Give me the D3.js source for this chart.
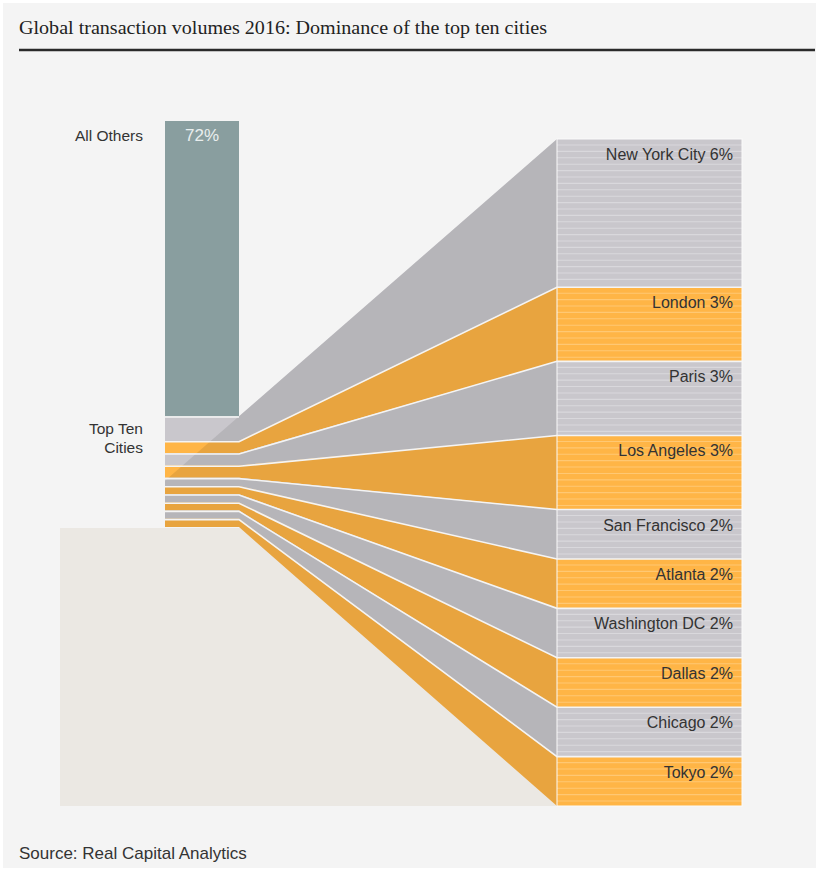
<!DOCTYPE html>
<html><head><meta charset="utf-8">
<script src="https://cdn.jsdelivr.net/npm/d3@7"></script>
<style>body{margin:0;background:#ffffff;} svg{display:block;}</style>
</head><body>
<script>
// ---- data ----
const cities = ["New York City","London","Paris","Los Angeles","San Francisco","Atlanta","Washington DC","Dallas","Chicago","Tokyo"];
const shares = [6,3,3,3,2,2,2,2,2,2];
const othersLabel = "All Others";
const othersShare = 72;
const topTenLabel = ["Top Ten","Cities"];
const titleText = "Global transaction volumes 2016: Dominance of the top ten cities";
const sourceText = "Source: Real Capital Analytics";

// ---- layout ----
const W = 819, H = 871;
const svg = d3.select("body").append("svg").attr("width", W).attr("height", H);
const sans = "'Liberation Sans', Arial, sans-serif";

const leftX0 = 165, leftX1 = 239, rightX0 = 557, rightX1 = 742;
const topTotal = d3.sum(shares);
const leftY = d3.scaleLinear().domain([0, othersShare + topTotal]).range([121, 527]);
const rightY = d3.scaleLinear().domain([0, topTotal]).range([139, 806]);

const cum = [];
shares.reduce((a, v, i) => { cum[i] = a; return a + v; }, 0);
const rows = cities.map((c, i) => ({
  name: c, share: shares[i], i,
  lt: leftY(othersShare + cum[i]), lb: leftY(othersShare + cum[i] + shares[i]),
  rt: rightY(cum[i]), rb: rightY(cum[i] + shares[i])
}));

const light = i => i % 2 === 0 ? "#c9c7cc" : "#ffb546";
const stripe = i => i % 2 === 0 ? "#d9d8dc" : "#ffc873";

// panel background
svg.append("rect").attr("x", 3).attr("y", 3).attr("width", W - 6).attr("height", H - 6).attr("fill", "#f4f4f4");

// title
svg.append("text").attr("x", 19).attr("y", 34)
  .attr("font-family", "'Liberation Serif', 'DejaVu Serif', serif").attr("font-size", 19.5)
  .attr("fill", "#222").attr("textLength", 528).attr("lengthAdjust", "spacingAndGlyphs")
  .text(titleText);
svg.append("line").attr("x1", 19).attr("x2", 815).attr("y1", 50).attr("y2", 50)
  .attr("stroke", "#2a2a2a").attr("stroke-width", 2.6);

// beige base panel
svg.append("rect").attr("x", 60).attr("y", leftY(othersShare + topTotal) + 1)
  .attr("width", rightX0 - 60).attr("height", rightY(topTotal) - leftY(othersShare + topTotal) - 1)
  .attr("fill", "#ebe8e3");

// all others bar
svg.append("rect").attr("x", leftX0).attr("y", leftY(0)).attr("width", leftX1 - leftX0)
  .attr("height", leftY(othersShare) - leftY(0)).attr("fill", "#899e9f");

// city segments + flows
svg.append("g").selectAll("path").data(rows).join("path")
  .attr("d", d => `M${leftX0},${d.lt}L${leftX1},${d.lt}L${rightX0},${d.rt}L${rightX0},${d.rb}L${leftX1},${d.lb}L${leftX0},${d.lb}Z`)
  .attr("fill", d => light(d.i));

// shadow overlay
const ax = rightX0, ay = rightY(0), bx = leftX1, by = leftY(othersShare);
const slope = (by - ay) / (bx - ax);
const yAtLeft = by + slope * (leftX0 - bx);
const overlayPts = [[ax, ay], [bx, by], [leftX0, yAtLeft], [leftX0, leftY(othersShare + topTotal)],
  [leftX1, leftY(othersShare + topTotal)], [rightX0, rightY(topTotal)]];
svg.append("path").attr("d", d3.line()(overlayPts) + "Z").attr("fill", "#000").attr("fill-opacity", 0.09);

// right bars with stripes
const rg = svg.append("g");
rows.forEach(d => {
  rg.append("rect").attr("x", rightX0).attr("y", d.rt).attr("width", rightX1 - rightX0)
    .attr("height", d.rb - d.rt).attr("fill", light(d.i));
  d3.range(d.rt + 6, d.rb - 2, 6.4).forEach(y => {
    rg.append("line").attr("x1", rightX0).attr("x2", rightX1).attr("y1", y).attr("y2", y)
      .attr("stroke", stripe(d.i)).attr("stroke-width", 1.1);
  });
});
rg.append("rect").attr("x", rightX0).attr("y", rightY(0)).attr("width", rightX1 - rightX0)
  .attr("height", rightY(topTotal) - rightY(0)).attr("fill", "none").attr("stroke", "#fafafa").attr("stroke-width", 1);

// separators
const sep = svg.append("g").attr("fill", "none").attr("stroke", "#f4f4f4").attr("stroke-width", 1.6);
sep.append("path").attr("d", `M${leftX0},${leftY(othersShare) + 0.8}L${leftX1},${leftY(othersShare) + 0.8}`);
rows.slice(0, -1).forEach(d => {
  sep.append("path").attr("d", `M${leftX0},${d.lb + 0.8}L${leftX1},${d.lb + 0.8}L${rightX0},${d.rb}L${rightX1},${d.rb}`);
});

// labels
svg.append("text").attr("x", 143).attr("y", 140.5).attr("text-anchor", "end")
  .attr("font-family", sans).attr("font-size", 15.5).attr("fill", "#333").text(othersLabel);
svg.append("text").attr("x", (leftX0 + leftX1) / 2).attr("y", 140.5).attr("text-anchor", "middle")
  .attr("font-family", sans).attr("font-size", 17).attr("fill", "#e9eeee").text(othersShare + "%");
topTenLabel.forEach((t, k) => {
  svg.append("text").attr("x", 143).attr("y", 433.5 + k * 19.5).attr("text-anchor", "end")
    .attr("font-family", sans).attr("font-size", 15.5).attr("fill", "#333").text(t);
});
svg.append("g").selectAll("text").data(rows).join("text")
  .attr("x", 733).attr("y", d => d.rt + 21).attr("text-anchor", "end")
  .attr("font-family", sans).attr("font-size", 16).attr("fill", "#333")
  .text(d => `${d.name} ${d.share}%`);

svg.append("text").attr("x", 19).attr("y", 859).attr("font-family", sans).attr("font-size", 17)
  .attr("fill", "#333").text(sourceText);
</script>
</body></html>
